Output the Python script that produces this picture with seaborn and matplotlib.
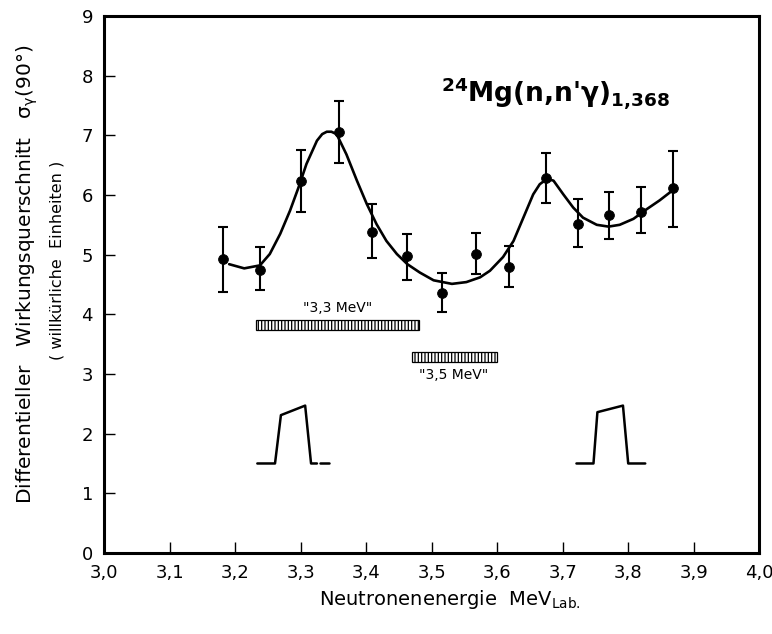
import matplotlib
matplotlib.use("Agg")
import matplotlib.pyplot as plt
import seaborn as sns
import numpy as np

# ---- data ----
energy = [3.182, 3.238, 3.300, 3.358, 3.409, 3.463, 3.516, 3.568,
          3.618, 3.674, 3.723, 3.770, 3.819, 3.868]
sigma = [4.93, 4.75, 6.24, 7.06, 5.38, 4.97, 4.35, 5.01,
         4.79, 6.28, 5.52, 5.66, 5.72, 6.11]
err_low = [0.55, 0.35, 0.52, 0.52, 0.44, 0.40, 0.31, 0.33,
           0.34, 0.42, 0.39, 0.40, 0.36, 0.64]
err_high = [0.54, 0.37, 0.52, 0.52, 0.47, 0.38, 0.34, 0.35,
            0.36, 0.43, 0.41, 0.39, 0.41, 0.62]

curve_E = [3.191, 3.214, 3.238, 3.253, 3.269, 3.284, 3.297, 3.309, 3.325,
           3.333, 3.340, 3.347, 3.355, 3.370, 3.386, 3.401, 3.416, 3.431,
           3.447, 3.463, 3.482, 3.503, 3.531, 3.553, 3.574, 3.589, 3.609,
           3.625, 3.640, 3.655, 3.665, 3.676, 3.686, 3.701, 3.716, 3.731,
           3.752, 3.770, 3.787, 3.808, 3.828, 3.848, 3.868]
curve_v = [4.84, 4.77, 4.82, 5.01, 5.35, 5.74, 6.13, 6.52, 6.91,
           7.02, 7.06, 7.06, 7.02, 6.68, 6.24, 5.85, 5.51, 5.23,
           5.01, 4.84, 4.70, 4.57, 4.51, 4.54, 4.62, 4.73, 4.96,
           5.23, 5.62, 6.01, 6.18, 6.27, 6.24, 6.01, 5.79, 5.62,
           5.50, 5.47, 5.50, 5.60, 5.76, 5.91, 6.08]

# energy-spread bars
bar_labels = ['"3,3 MeV"', '"3,5 MeV"']
bar_left = [3.232, 3.470]
bar_right = [3.481, 3.600]
bar_bottom = [3.73, 3.20]
bar_top = [3.91, 3.37]
bar_label_E = [3.357, 3.533]
bar_label_v = [4.10, 2.98]

# resolution profiles
prof1_E = [3.234, 3.261, 3.270, 3.307, 3.316, 3.325]
prof1_v = [1.5, 1.5, 2.31, 2.47, 1.5, 1.5]
prof1_dash_E = [3.329, 3.344]
prof1_dash_v = [1.5, 1.5]
prof2_E = [3.721, 3.747, 3.753, 3.792, 3.800, 3.826]
prof2_v = [1.5, 1.5, 2.36, 2.47, 1.5, 1.5]

x_ticks = [3.0, 3.1, 3.2, 3.3, 3.4, 3.5, 3.6, 3.7, 3.8, 3.9, 4.0]
x_ticklabels = ["3,0", "3,1", "3,2", "3,3", "3,4", "3,5", "3,6", "3,7", "3,8", "3,9", "4,0"]
y_ticks = [0, 1, 2, 3, 4, 5, 6, 7, 8, 9]

# ---- plotting ----
sns.set_theme(style="ticks")
plt.rcParams['font.family'] = ['DejaVu Sans']
plt.rcParams['hatch.linewidth'] = 0.9
plt.rcParams['text.color'] = 'black'
plt.rcParams['axes.labelcolor'] = 'black'

fig = plt.figure(figsize=(7.72, 6.34), dpi=100)
ax = fig.add_axes([0.1347, 0.1278, 0.8488, 0.8470])

sns.lineplot(x=curve_E, y=curve_v, ax=ax, color="black", linewidth=1.9, sort=False)
ax.errorbar(energy, sigma, yerr=[err_low, err_high], fmt="none", ecolor="black",
            elinewidth=1.5, capsize=3.5, capthick=1.5)
sns.scatterplot(x=energy, y=sigma, ax=ax, color="black", s=50, edgecolor="black", zorder=5)

for l, r, b, t in zip(bar_left, bar_right, bar_bottom, bar_top):
    ax.bar(l, t - b, width=r - l, bottom=b, align="edge", facecolor="white",
           edgecolor="black", hatch="|||||", linewidth=0.9)
for lab, xe, yv in zip(bar_labels, bar_label_E, bar_label_v):
    ax.text(xe, yv, lab, ha="center", va="center", fontsize=10, color="black")

ax.plot(prof1_E, prof1_v, color="black", linewidth=1.8)
ax.plot(prof1_dash_E, prof1_dash_v, color="black", linewidth=1.8)
ax.plot(prof2_E, prof2_v, color="black", linewidth=1.8)

ax.text(3.515, 7.55, r"$^{\mathbf{24}}$Mg(n,n'γ)$_{\mathbf{1{,}368}}$", fontsize=19,
        fontweight="bold", ha="left", va="baseline", color="black")

ax.set_xlim(3.0, 4.0)
ax.set_ylim(0, 9)
ax.set_xticks(x_ticks)
ax.set_xticklabels(x_ticklabels)
ax.set_yticks(y_ticks)
ax.tick_params(direction="in", length=8, width=1.0, labelsize=13, colors="black", pad=8,
               top=False, right=False)
for s in ax.spines.values():
    s.set_linewidth(2.2)
    s.set_color("black")

fig.text(0.035, 0.568, "Differentieller   Wirkungsquerschnitt   σ$_{\\mathregular{γ}}$(90°)",
         rotation=90, ha="center", va="center", fontsize=14.5, color="black")
fig.text(0.074, 0.59, "( willkürliche  Einheiten )", rotation=90, ha="center",
         va="center", fontsize=11.5, color="black")
fig.text(0.583, 0.054, "Neutronenenergie  MeV$_{\\mathregular{Lab.}}$", ha="center",
         va="center", fontsize=14, color="black")

fig.savefig("out.png", dpi=100)
